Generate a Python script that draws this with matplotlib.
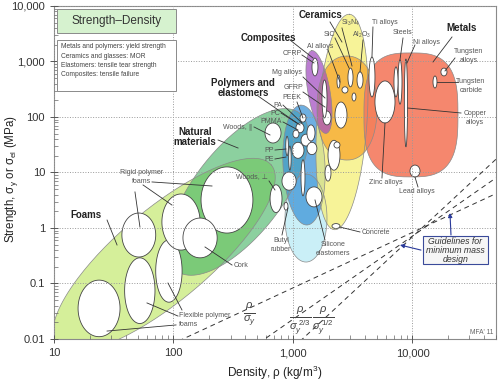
import numpy as np
import matplotlib
matplotlib.use('Agg')
import matplotlib.pyplot as plt
from matplotlib.patches import Rectangle
from matplotlib.ticker import FixedLocator, LogLocator, NullFormatter

plt.rcParams['font.family'] = ['Liberation Sans', 'DejaVu Sans']
plt.rcParams['mathtext.fontset'] = 'custom'
plt.rcParams['mathtext.rm'] = 'Liberation Sans'
plt.rcParams['mathtext.it'] = 'Liberation Sans:italic'
plt.rcParams['mathtext.bf'] = 'Liberation Sans:bold'

# material bubbles: (density range kg/m3), (strength range MPa)
foam_rho = [(15.9, 35.7), (39, 70), (71, 118), (37, 71), (80, 167), (170, 462), (120, 232)]
foam_sig = [(0.011, 0.115), (0.019, 0.29), (0.046, 0.61), (0.30, 1.86), (0.40, 4.1), (0.81, 12.6), (0.29, 1.51)]

natural_rho = [(643, 809), (583, 794)]
natural_sig = [(1.9, 6.0), (34, 78)]

polymer_rho = [(870, 915), (920, 965), (809, 1063), (1285, 1749), (1167, 1260), (841, 908),
               (1059, 1236), (1167, 1415), (981, 1236), (1309, 1528), (1145, 1285), (1000, 1122), (1309, 1585)]
polymer_sig = [(20, 45), (11, 30), (4.8, 10.2), (2.4, 5.5), (3.8, 17), (2.1, 2.9),
               (52, 78), (30, 49), (18, 35), (37, 72), (81, 113), (42, 58), (21, 35)]

composite_rho = [(1442, 1618), (1782, 2080)]
composite_sig = [(550, 1150), (72, 128)]

ceramic_rho = [(2884, 3180), (3436, 3855), (2570, 2884), (3119, 3365), (2335, 2473),
               (1963, 2473), (1853, 2080), (2203, 2473), (2120, 2473)]
ceramic_sig = [(350, 760), (330, 650), (270, 350), (194, 271), (333, 571),
               (11, 38), (7, 13.6), (27.6, 35.5), (0.98, 1.2)]

metal_rho = [(1749, 1927), (2246, 2831), (4325, 4853), (4853, 7140), (7568, 8170), (7000, 7568),
             (8550, 9090), (17300, 19440), (14850, 16030), (9530, 11560)]
metal_sig = [(96, 464), (63, 186), (230, 1200), (78, 446), (170, 1065), (230, 800),
             (29, 1110), (550, 760), (333, 548), (8.3, 13.6)]

# family envelopes: name, centre density, centre strength
env_names = ['foams', 'natural', 'elastomers', 'polymers', 'ceramics', 'tech_ceramics', 'composites', 'metals']
env_rho = [83.3, 347, 1285, 1236, 2570, 2831, 1651, 9710]
env_sig = [0.327, 4.46, 1.51, 13.6, 81.3, 145, 282, 109]
# shape (half axes in px, angle, squareness)
env_shape = [(140, 46, 40, 2), (100, 44, 52, 2), (44, 21, 90, 2), (60, 21, 93, 2),
             (108, 25, 86, 2), (52, 30, 90, 2.2), (42, 11, 100, 2), (47, 62, 0, 3)]
env_color = ['#d5ef9a', '#45b464', '#c5eef7', '#3d94d7', '#f5f07e', '#f7b33d', '#a552c2', '#f47a5e']
env_alpha = [1, 0.62, 0.9, 0.75, 0.8, 0.9, 0.75, 0.9]

# guide lines rho/sigma^m = C
guide_m = [1, 2 / 3, 1 / 2]
guide_C = [12000, 12500, 12000]
guide_rho = [60, 50000]

# labels
family_labels = [('Foams', 18.5, 1.71), ('Natural\nmaterials', 151, 43.6),
                 ('Polymers and\nelastomers', 382, 333), ('Composites', 617, 2651),
                 ('Ceramics', 1683, 6887), ('Metals', 25960, 4018)]
family_leaders = [((27.8, 1.39), (33.7, 0.494)), ((236, 38.5), (347, 27.6)),
                  ((510, 239), (1080, 78)), ((944, 2440), (1469, 1156)),
                  ((2041, 5152), (2570, 2245)), ((21420, 2763), (14850, 980))]

mat_labels = [('Rigid polymer\nfoams', 54.5, 8.3, 'center'), ('Cork', 321, 0.215, 'left'),
              ('Flexible polymer\nfoams', 111, 0.022, 'left'), ('Woods, \u2225', 454, 66.1, 'right'),
              ('Woods, \u22a5', 617, 7.96, 'right'), ('PP', 693, 25.4, 'right'), ('PE', 693, 17.5, 'right'),
              ('PMMA', 809, 81.3, 'right'), ('PC', 778, 118, 'right'), ('PA', 809, 164, 'right'),
              ('PEEK', 981, 220, 'center'), ('GFRP', 1019, 333, 'center'), ('Mg alloys', 891, 621, 'center'),
              ('CFRP', 981, 1422, 'center'), ('Al alloys', 1683, 1825, 'center'), ('SiC', 2000, 3003, 'center'),
              ('Si$_3$N$_4$', 2997, 4943, 'center'), ('Al$_2$O$_3$', 3778, 3003, 'center'),
              ('Ti alloys', 5888, 4943, 'center'), ('Steels', 8331, 3265, 'center'),
              ('Ni alloys', 13220, 2245, 'center'), ('Tungsten\nalloys', 29720, 1259, 'center'),
              ('Tungsten\ncarbide', 30900, 362, 'center'), ('Copper\nalloys', 33340, 96, 'center'),
              ('Zinc alloys', 6000, 6.47, 'center'), ('Lead alloys', 10900, 4.46, 'center'),
              ('Concrete', 3778, 0.813, 'left'), ('Silicone\nelastomers', 2163, 0.419, 'center'),
              ('Butyl\nrubber', 794, 0.494, 'center')]
mat_leaders = [((66.1, 6.75), (210, 5.71)), ((47.6, 4.46), (52.4, 1.04)), ((55.6, 5.96), (97.1, 2.59)),
               ((309, 0.215), (183.5, 0.455)),
               ((109, 0.0259), (60, 0.0446)), ((117.8, 0.0333), (89.9, 0.102)), ((105, 0.0179), (27.8, 0.0139)),
               ((472, 66.1), (642, 47.4)), ((630, 7.03), (707, 4.84)),
               ((707, 25.4), (874, 26.5)), ((707, 17.5), (874, 19.0)),
               ((825, 81.3), (1101, 58.3)), ((794, 118), (1145, 71.8)), ((825, 164), (1189, 78)),
               ((1080, 186), (1213, 96)), ((1213, 282), (1853, 151)), ((1213, 526), (1853, 220)),
               ((1189, 1309), (1499, 940)), ((1963, 1615), (2473, 427)), ((2246, 2651), (2944, 764)),
               ((2570, 4018), (3119, 830)), ((3855, 2440), (3638, 647)), ((4669, 4186), (4581, 1206)),
               ((8331, 2651), (7857, 1065)), ((10490, 1983), (8995, 940)), ((22690, 1156), (18700, 675)),
               ((24040, 427), (16030, 427)), ((25470, 118), (9170, 145)), ((5555, 7.96), (5888, 78)),
               ((11120, 5.48), (10490, 8.3)), ((3638, 0.847), (2473, 1.04)), ((1853, 0.608), (1528, 3.2)),
               ((809, 0.748), (908, 2.29))]

index_labels = [(r'$\frac{\rho}{\sigma_y}$', 437, 0.027), (r'$\frac{\rho}{\sigma_y^{\ 2/3}}$', 1160, 0.021),
                (r'$\frac{\rho}{\sigma_y^{\ 1/2}}$', 1800, 0.021)]

fig = plt.figure(figsize=(5, 3.82), dpi=100)
ax_pos = [0.108, 0.1126, 0.884, 0.8717]
ax = fig.add_axes(ax_pos)
ax.set_xscale('log')
ax.set_yscale('log')
ax.set_xlim(10, 50000)
ax.set_ylim(0.01, 10000)

kx = fig.get_figwidth() * fig.dpi * ax_pos[2] / np.log10(50000 / 10)
ky = fig.get_figheight() * fig.dpi * ax_pos[3] / 6


def envelope(rho, sig, a, b, ang, n):
    t = np.linspace(0, 2 * np.pi, 240)
    c, s = np.cos(t), np.sin(t)
    u = a * np.sign(c) * np.abs(c) ** (2 / n)
    v = b * np.sign(s) * np.abs(s) ** (2 / n)
    th = np.radians(ang)
    dx = u * np.cos(th) - v * np.sin(th)
    dy = u * np.sin(th) + v * np.cos(th)
    return rho * 10 ** (dx / kx), sig * 10 ** (dy / ky)


def bubble(r, s):
    t = np.linspace(0, 2 * np.pi, 120)
    lr, ls = np.log10(r), np.log10(s)
    x = 10 ** ((lr[0] + lr[1]) / 2 + (lr[1] - lr[0]) / 2 * np.cos(t))
    y = 10 ** ((ls[0] + ls[1]) / 2 + (ls[1] - ls[0]) / 2 * np.sin(t))
    return x, y


for i in range(len(env_names)):
    a, b, ang, n = env_shape[i]
    x, y = envelope(env_rho[i], env_sig[i], a, b, ang, n)
    ax.fill(x, y, facecolor=env_color[i], alpha=env_alpha[i], edgecolor='none', zorder=1)
    ax.plot(x, y, color='#8a8a8a', lw=0.5, zorder=1.1)

for rr, ss in [(foam_rho, foam_sig), (natural_rho, natural_sig), (polymer_rho, polymer_sig),
               (composite_rho, composite_sig), (ceramic_rho, ceramic_sig), (metal_rho, metal_sig)]:
    for r, s in zip(rr, ss):
        x, y = bubble(r, s)
        ax.fill(x, y, facecolor='white', edgecolor='#444444', lw=0.6, zorder=2)

# guidelines for minimum mass design
for m, C in zip(guide_m, guide_C):
    r = np.array(guide_rho, dtype=float)
    ax.plot(r, (r / C) ** (1 / m), color='#333333', lw=0.7, ls=(0, (5, 4)), zorder=2.6)

for (x0, y0), (x1, y1) in family_leaders + mat_leaders:
    ax.plot([x0, x1], [y0, y1], color='#333333', lw=0.6, zorder=4)

for txt, x, y in family_labels:
    ax.text(x, y, txt, fontsize=7, fontweight='bold', color='#222222', ha='center', va='center',
            linespacing=0.95, zorder=5)
for txt, x, y, ha in mat_labels:
    ax.text(x, y, txt, fontsize=5, color='#555555', ha=ha, va='center', linespacing=1.3, zorder=5)
for txt, x, y in index_labels:
    ax.text(x, y, txt, fontsize=11.5, color='#444444', ha='center', va='center', zorder=5)

ax.text(0.993, 0.018, "MFA' 11", transform=ax.transAxes, ha='right', va='center', fontsize=4.8, color='#666666')

# title & note boxes
ax.add_patch(Rectangle((0.007, 0.92), 0.27, 0.071, transform=ax.transAxes, facecolor='#d6f2cf',
                       edgecolor='#8a8a8a', lw=0.7, zorder=6))
ax.text(0.142, 0.955, 'Strength\u2013Density', transform=ax.transAxes, ha='center', va='center',
        fontsize=8.5, color='#333333', zorder=7)
ax.add_patch(Rectangle((0.007, 0.745), 0.27, 0.153, transform=ax.transAxes, facecolor='white',
                       edgecolor='#8a8a8a', lw=0.7, zorder=6))
ax.text(0.016, 0.888, 'Metals and polymers: yield strength\nCeramics and glasses: MOR\n'
        'Elastomers: tensile tear strength\nComposites: tensile failure',
        transform=ax.transAxes, ha='left', va='top', fontsize=4.8, color='#444444', linespacing=1.45, zorder=7)

ax.add_patch(Rectangle((0.834, 0.2246), 0.148, 0.0834, transform=ax.transAxes, facecolor='#f6f6f6',
                       edgecolor='#3a4a9a', lw=0.8, zorder=6))
ax.text(0.908, 0.266, 'Guidelines for\nminimum mass\ndesign', transform=ax.transAxes, ha='center',
        va='center', fontsize=6.3, style='italic', color='#333333', linespacing=1.0, zorder=7)
for (x0, y0), (x1, y1) in [((21000, 0.748), (20600, 1.86)), ((11780, 0.40), (7857, 0.494))]:
    ax.annotate('', xy=(x1, y1), xytext=(x0, y0),
                arrowprops=dict(arrowstyle='-|>', color='#2a3a9a', lw=0.8, mutation_scale=6,
                                shrinkA=0, shrinkB=0), zorder=7)

# axes cosmetics
ax.xaxis.set_major_locator(FixedLocator([10, 100, 1000, 10000]))
ax.set_xticklabels(['10', '100', '1,000', '10,000'])
ax.yaxis.set_major_locator(FixedLocator([0.01, 0.1, 1, 10, 100, 1000, 10000]))
ax.set_yticklabels(['0.01', '0.1', '1', '10', '100', '1,000', '10,000'])
ax.xaxis.set_minor_locator(LogLocator(subs=np.arange(2, 10)))
ax.yaxis.set_minor_locator(LogLocator(subs=np.arange(2, 10)))
ax.xaxis.set_minor_formatter(NullFormatter())
ax.yaxis.set_minor_formatter(NullFormatter())
ax.tick_params(which='major', direction='inout', length=6, width=0.7, color='#555555',
               labelsize=8, labelcolor='#333333')
ax.tick_params(which='minor', direction='in', length=3, width=0.5, color='#666666')
ax.grid(True, which='major', ls=':', color='#999999', lw=0.7)
ax.set_axisbelow(False)
for sp in ax.spines.values():
    sp.set_color('#8a8a8a')
    sp.set_linewidth(0.8)

ax.set_xlabel('Density, \u03c1 (kg/m$^3$)', fontsize=8.5, color='#222222')
ax.set_ylabel('Strength, \u03c3$_\\mathrm{y}$ or \u03c3$_\\mathrm{el}$ (MPa)', fontsize=8.3, color='#222222')
ax.yaxis.set_label_coords(-0.076, 0.48)

fig.savefig('out.png', dpi=100)
